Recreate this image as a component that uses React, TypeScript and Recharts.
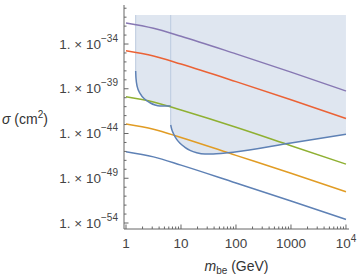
import { ComposedChart, Line, Area, XAxis, YAxis } from 'recharts'

const masses = [1, 3.16, 10, 100, 1000, 10000]
// log10 of sigma (cm^2) for each curve
const purpleLine = [-31.65, -32.24, -33.13, -35.1, -37.14, -39.25]
const redLine = [-34.75, -35.33, -36.24, -38.2, -40.23, -42.32]
const greenLine = [-39.89, -40.47, -41.38, -43.3, -45.36, -47.42]
const orangeLine = [-42.94, -43.52, -44.44, -46.44, -48.44, -50.51]
const blueLine = [-46.03, -46.61, -47.53, -49.53, -51.54, -53.6]

// excluded region, low-mass piece
const lowMass = [1.5, 1.52, 1.6, 1.8, 2.21, 2.73, 3.37, 4.15, 6.5]
const lowLimit = [-37.02, -37.83, -38.77, -39.51, -40.18, -40.56, -40.82, -40.93, -40.93]
// excluded region, high-mass piece
const highMass = [6.5, 6.78, 7.24, 8.35, 9.59, 11.8, 14.6, 19.3, 27.3, 38.6, 58.7, 89.3, 1000, 10000]
const highLimit = [
    -43.05, -43.53, -43.97, -44.65, -45.09, -45.54, -45.88, -46.15, -46.29, -46.29, -46.21, -46.1,
    -45.06, -44.07,
]
const shadeTop = -30.76

const xTicks = [1, 2, 3, 4, 5, 6, 7, 8, 9, 10, 20, 30, 40, 50, 60, 70, 80, 90, 100, 200, 300, 400, 500, 600, 700, 800, 900, 1000, 2000, 3000, 4000, 5000, 6000, 7000, 8000, 9000, 10000]
const yTicks = [-54, -53, -52, -51, -50, -49, -48, -47, -46, -45, -44, -43, -42, -41, -40, -39, -38, -37, -36, -35, -34, -33, -32, -31, -30]
const yLabelled = [-54, -49, -44, -39, -34]

const lineData = masses.map((m, i) => ({
    m,
    purple: purpleLine[i],
    red: redLine[i],
    green: greenLine[i],
    orange: orangeLine[i],
    blue: blueLine[i],
}))
const lowData = lowMass.map((m, i) => ({ m, limit: lowLimit[i], band: [lowLimit[i], shadeTop] }))
const highData = highMass.map((m, i) => ({ m, limit: highLimit[i], band: [highLimit[i], shadeTop] }))
const lowEdge = [
    { m: lowMass[0], limit: shadeTop },
    { m: lowMass[0], limit: lowLimit[0] },
]
const highEdge = [
    { m: highMass[0], limit: shadeTop },
    { m: highMass[0], limit: highLimit[0] },
]

const FRAME = '#666'
const TEXT = '#444'
const FONT = '"Liberation Sans", Arial, sans-serif'

const isDecade = (v: number) => Math.abs(Math.log10(v) - Math.round(Math.log10(v))) < 1e-9

function BottomTick({ x, y, payload }: any) {
    const v = payload.value
    const major = isDecade(v)
    return (
        <g>
            <line x1={x} x2={x} y1={y} y2={y - (major ? 4.5 : 2.5)} stroke={FRAME} />
            {major && (
                <text x={x} y={y + 18.5} textAnchor="middle" fontSize={13.5} fill={TEXT} fontFamily={FONT}>
                    {v === 10000 ? (
                        <>
                            <tspan>10</tspan>
                            <tspan dy={-6} fontSize={10}>4</tspan>
                        </>
                    ) : (
                        String(v)
                    )}
                </text>
            )}
        </g>
    )
}

function TopTick({ x, y, payload }: any) {
    const major = isDecade(payload.value)
    return <line x1={x} x2={x} y1={y} y2={y + (major ? 4.5 : 2.5)} stroke={FRAME} />
}

function LeftTick({ x, y, payload }: any) {
    const v = payload.value
    const major = yLabelled.includes(v)
    return (
        <g>
            <line x1={x} x2={x + (major ? 4.5 : 2.5)} y1={y} y2={y} stroke={FRAME} />
            {major && (
                <text x={x - 6} y={y + 4.5} textAnchor="end" fontSize={13.5} fill={TEXT} fontFamily={FONT}>
                    <tspan>1. × 10</tspan>
                    <tspan dy={-7} fontSize={10}>{`−${-v}`}</tspan>
                </text>
            )}
        </g>
    )
}

function RightTick({ x, y, payload }: any) {
    const major = yLabelled.includes(payload.value)
    return <line x1={x} x2={x - (major ? 4.5 : 2.5)} y1={y} y2={y} stroke={FRAME} />
}

function YTitle() {
    return (
        <text x={2} y={124} fontSize={14} fill="#333" fontFamily={FONT}>
            <tspan fontStyle="italic">σ</tspan>
            <tspan> (cm</tspan>
            <tspan dy={-6} fontSize={10}>2</tspan>
            <tspan dy={6}>)</tspan>
        </text>
    )
}

function XTitle() {
    return (
        <text x={236.5} y={271} textAnchor="middle" fontSize={14} fill="#333" fontFamily={FONT}>
            <tspan fontStyle="italic">m</tspan>
            <tspan dy={3} fontSize={10}>be</tspan>
            <tspan dy={-3}> (GeV)</tspan>
        </text>
    )
}

export default function App() {
    return (
        <div style={{ position: 'absolute', left: 0, top: 0 }}>
            <ComposedChart width={360} height={277} margin={{ top: 5, right: 11, bottom: 18, left: 0 }}>
                <XAxis
                    xAxisId="bottom"
                    dataKey="m"
                    type="number"
                    scale="log"
                    domain={[0.92, 11350]}
                    allowDataOverflow
                    ticks={xTicks}
                    interval={0}
                    height={30}
                    tickSize={0}
                    tickMargin={0}
                    tickLine={false}
                    axisLine={{ stroke: FRAME }}
                    tick={<BottomTick />}
                    label={<XTitle />}
                />
                <XAxis
                    xAxisId="top"
                    orientation="top"
                    dataKey="m"
                    type="number"
                    scale="log"
                    domain={[0.92, 11350]}
                    allowDataOverflow
                    ticks={xTicks}
                    interval={0}
                    height={0}
                    tickSize={0}
                    tickMargin={0}
                    tickLine={false}
                    axisLine={{ stroke: FRAME }}
                    tick={<TopTick />}
                />
                <YAxis
                    yAxisId="left"
                    type="number"
                    domain={[-54.67, -29.64]}
                    allowDataOverflow
                    ticks={yTicks}
                    interval={0}
                    width={124}
                    tickSize={0}
                    tickMargin={0}
                    tickLine={false}
                    axisLine={{ stroke: FRAME }}
                    tick={<LeftTick />}
                    label={<YTitle />}
                />
                <YAxis
                    yAxisId="right"
                    orientation="right"
                    type="number"
                    domain={[-54.67, -29.64]}
                    allowDataOverflow
                    ticks={yTicks}
                    interval={0}
                    width={0}
                    tickSize={0}
                    tickMargin={0}
                    tickLine={false}
                    axisLine={{ stroke: FRAME }}
                    tick={<RightTick />}
                />

                <Area
                    xAxisId="bottom"
                    yAxisId="left"
                    data={lowData}
                    dataKey="band"
                    type="monotone"
                    fill="#5e81b5"
                    fillOpacity={0.2}
                    stroke="none"
                    isAnimationActive={false}
                />
                <Area
                    xAxisId="bottom"
                    yAxisId="left"
                    data={highData}
                    dataKey="band"
                    type="monotone"
                    fill="#5e81b5"
                    fillOpacity={0.2}
                    stroke="none"
                    isAnimationActive={false}
                />
                <Line xAxisId="bottom" yAxisId="left" data={lowEdge} dataKey="limit" type="linear" stroke="#bccadf" strokeWidth={1} dot={false} isAnimationActive={false} />
                <Line xAxisId="bottom" yAxisId="left" data={highEdge} dataKey="limit" type="linear" stroke="#bccadf" strokeWidth={1} dot={false} isAnimationActive={false} />

                <Line xAxisId="bottom" yAxisId="left" data={lineData} dataKey="purple" type="monotone" stroke="#8778b3" strokeWidth={1.5} dot={false} isAnimationActive={false} />
                <Line xAxisId="bottom" yAxisId="left" data={lineData} dataKey="red" type="monotone" stroke="#eb6235" strokeWidth={1.5} dot={false} isAnimationActive={false} />
                <Line xAxisId="bottom" yAxisId="left" data={lineData} dataKey="green" type="monotone" stroke="#8fb032" strokeWidth={1.5} dot={false} isAnimationActive={false} />
                <Line xAxisId="bottom" yAxisId="left" data={lineData} dataKey="orange" type="monotone" stroke="#e19c24" strokeWidth={1.5} dot={false} isAnimationActive={false} />
                <Line xAxisId="bottom" yAxisId="left" data={lineData} dataKey="blue" type="monotone" stroke="#5e81b5" strokeWidth={1.5} dot={false} isAnimationActive={false} />

                <Line xAxisId="bottom" yAxisId="left" data={lowData} dataKey="limit" type="monotone" stroke="#5e81b5" strokeWidth={1.5} dot={false} isAnimationActive={false} />
                <Line xAxisId="bottom" yAxisId="left" data={highData} dataKey="limit" type="monotone" stroke="#5e81b5" strokeWidth={1.5} dot={false} isAnimationActive={false} />
            </ComposedChart>
        </div>
    )
}
